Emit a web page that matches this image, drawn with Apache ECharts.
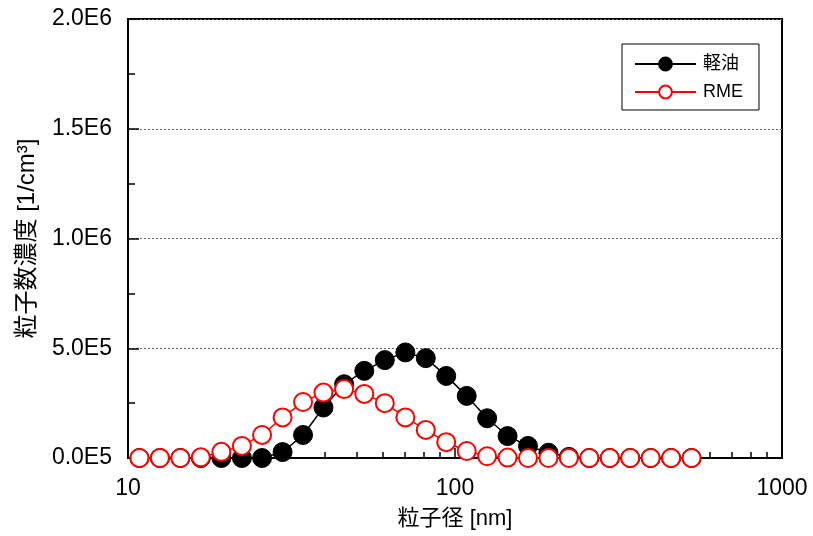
<!DOCTYPE html>
<html>
<head>
<meta charset="utf-8">
<script src="https://cdn.jsdelivr.net/npm/echarts@6/dist/echarts.min.js"></script>
<style>
html,body{margin:0;padding:0;background:#fff;}
#chart{width:813px;height:536px;}
</style>
</head>
<body>
<div id="chart"></div>
<script>
// Particle diameter [nm] (16 channels per decade)
var diameters = [10.84, 12.52, 14.46, 16.7, 19.3, 22.3, 25.7, 29.7, 34.3, 39.6, 45.8, 52.8, 61.0, 70.5,
                 81.4, 94.0, 108.6, 125.4, 144.8, 167.2, 193.1, 223.0, 257.5, 297.4, 343.4, 396.6, 458.0, 528.9];
// 軽油 (diesel) number concentration [1/cm3]
var diesel = [0, 0, 0, 0, 0, 0, 0, 27000, 105000, 230000, 336000, 397000, 446000, 481000,
              455000, 374000, 283000, 181000, 100000, 55000, 24000, 5000, 0, 0, 0, 0, 0, 0];
// RME number concentration [1/cm3]
var rme = [0, 0, 0, 3000, 28000, 55000, 105000, 185000, 255000, 298000, 314000, 292000, 250000, 185000,
           128000, 72000, 32000, 8000, 2000, 0, 0, 0, 0, 0, 0, 0, 0, 0];
var seriesNames = ['軽油', 'RME'];
var yTickValues = [0, 500000, 1000000, 1500000, 2000000];
var yTickLabels = ['0.0E5', '5.0E5', '1.0E6', '1.5E6', '2.0E6'];
var xTickValues = [10, 100, 1000];
var xTickLabels = ['10', '100', '1000'];
var xMinorTicks = [20, 30, 40, 50, 60, 70, 80, 90, 200, 300, 400, 500, 600, 700, 800, 900];

var FONT = "'Liberation Sans', Arial, 'Noto Sans CJK JP', sans-serif";

function pairs(xs, ys) {
  var out = [];
  for (var i = 0; i < xs.length; i++) out.push([xs[i], ys[i]]);
  return out;
}
function lookup(vals, labels, v) {
  for (var i = 0; i < vals.length; i++) {
    if (Math.abs(vals[i] - v) < 1e-6 * Math.max(1, Math.abs(v))) return labels[i];
  }
  return '';
}

var chart = echarts.init(document.getElementById('chart'), null, {renderer: 'canvas'});
chart.setOption({
  animation: false,
  backgroundColor: '#fff',
  textStyle: {fontFamily: FONT},
  grid: {
    left: 128, right: 31, top: 19, bottom: 78,
    show: true, borderColor: '#000', borderWidth: 2, backgroundColor: 'transparent'
  },
  legend: {
    data: seriesNames,
    orient: 'vertical',
    left: 622, top: 44,
    padding: [11, 16, 9, 12],
    itemGap: 10,
    itemWidth: 61,
    itemHeight: 16,
    borderColor: '#000',
    borderWidth: 1,
    backgroundColor: '#fff',
    textStyle: {fontSize: 18, color: '#000', fontFamily: FONT, padding: [0, 0, 0, 2]}
  },
  xAxis: [{
    type: 'log', logBase: 10, min: 10, max: 1000,
    name: '粒子径 [nm]', nameLocation: 'middle', nameGap: 50,
    nameTextStyle: {fontSize: 22, color: '#000', fontFamily: FONT},
    axisLine: {show: true, lineStyle: {color: '#000', width: 2}},
    axisTick: {show: true, inside: true, length: 10, lineStyle: {color: '#000', width: 1.5}},
    axisLabel: {
      fontSize: 23, color: '#000', margin: 19, fontFamily: FONT,
      formatter: function (v) { return lookup(xTickValues, xTickLabels, v); }
    },
    splitLine: {show: false},
    minorTick: {show: false}
  }, {
    type: 'log', logBase: 10, min: 10, max: 1000, position: 'bottom',
    axisLine: {show: false},
    axisTick: {show: true, inside: true, length: 6, customValues: xMinorTicks, lineStyle: {color: '#000', width: 1.5}},
    axisLabel: {show: false},
    splitLine: {show: false}
  }],
  yAxis: {
    type: 'value', min: 0, max: 2000000, interval: 500000,
    name: '粒子数濃度 [1/cm³]', nameLocation: 'middle', nameGap: 89,
    nameTextStyle: {fontSize: 24, color: '#000', fontFamily: FONT},
    axisLine: {show: true, lineStyle: {color: '#000', width: 2}},
    axisTick: {show: true, inside: true, length: 11, lineStyle: {color: '#000', width: 1.5}},
    minorTick: {show: true, splitNumber: 2, length: 7, lineStyle: {color: '#000', width: 1.5}},
    axisLabel: {
      fontSize: 23, color: '#000', margin: 16, fontFamily: FONT,
      formatter: function (v) { return lookup(yTickValues, yTickLabels, v); }
    },
    splitLine: {show: true, lineStyle: {color: '#666', width: 1, type: [2, 2]}}
  },
  series: [{
    name: seriesNames[0],
    type: 'line',
    data: pairs(diameters, diesel),
    symbol: 'circle',
    symbolSize: 19,
    showAllSymbol: true,
    itemStyle: {color: '#000', borderColor: '#000', borderWidth: 1},
    lineStyle: {color: '#000', width: 1.5},
    emphasis: {disabled: true}
  }, {
    name: seriesNames[1],
    type: 'line',
    data: pairs(diameters, rme),
    symbol: 'circle',
    symbolSize: 18,
    showAllSymbol: true,
    itemStyle: {color: '#fff', borderColor: '#ff0000', borderWidth: 2},
    lineStyle: {color: '#ff0000', width: 1.5},
    emphasis: {disabled: true}
  }]
});
</script>
</body>
</html>
